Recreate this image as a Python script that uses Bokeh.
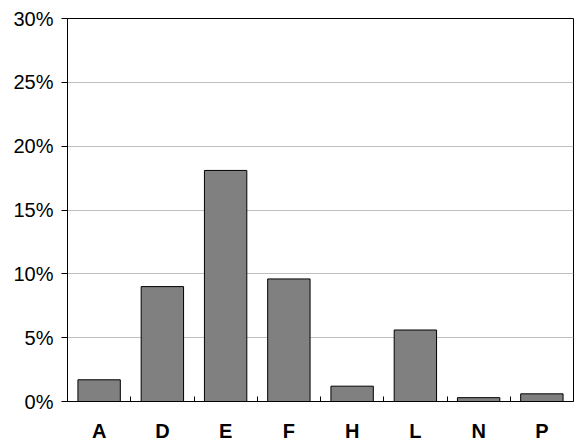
from bokeh.plotting import figure
from bokeh.models import Range1d, FixedTicker, NumeralTickFormatter, ColumnDataSource
from bokeh.embed import file_html
from bokeh.resources import INLINE

categories = ["A", "D", "E", "F", "H", "L", "N", "P"]
values = [0.017, 0.090, 0.181, 0.096, 0.012, 0.056, 0.003, 0.006]
y_ticks = [0.0, 0.05, 0.10, 0.15, 0.20, 0.25, 0.30]

xpos = list(range(1, len(categories) + 1))
src = ColumnDataSource(dict(x=xpos, top=values))

p = figure(width=577, height=444, output_backend="svg", toolbar_location=None,
           x_range=Range1d(0.5, len(categories) + 0.5), y_range=Range1d(0, 0.30),
           min_border_left=67, min_border_right=4, min_border_top=18, min_border_bottom=43)

p.vbar(x="x", top="top", bottom=0, width=0.67, source=src,
       fill_color="#808080", line_color="#000000", line_width=1)

p.outline_line_color = "#000000"
p.outline_line_width = 1
p.background_fill_color = "white"
p.border_fill_color = "white"

# y axis
p.yaxis.ticker = FixedTicker(ticks=y_ticks)
p.yaxis.formatter = NumeralTickFormatter(format="0%")
p.yaxis.major_tick_out = 6
p.yaxis.major_tick_in = 0
p.yaxis.minor_tick_line_color = None
p.yaxis.axis_line_color = "#000000"
p.yaxis.major_label_text_font = "Liberation Sans"
p.yaxis.major_label_text_font_size = "20px"
p.yaxis.major_label_text_color = "#000000"
p.yaxis.major_label_standoff = 8

# x axis: labels at centers, ticks between categories
bounds = [i + 0.5 for i in range(1, len(categories))]
p.xaxis.ticker = FixedTicker(ticks=xpos, minor_ticks=bounds)
p.xaxis.major_label_overrides = {i: c for i, c in zip(xpos, categories)}
p.xaxis.major_tick_line_color = None
p.xaxis.major_tick_in = 0
p.xaxis.major_tick_out = 0
p.xaxis.minor_tick_in = 5
p.xaxis.minor_tick_out = 0
p.xaxis.minor_tick_line_color = "#000000"
p.xaxis.axis_line_color = "#000000"
p.xaxis.major_label_text_font = "Liberation Sans"
p.xaxis.major_label_text_font_size = "20px"
p.xaxis.major_label_text_font_style = "bold"
p.xaxis.major_label_text_color = "#000000"
p.xaxis.major_label_standoff = 18

p.xgrid.grid_line_color = None
p.ygrid.ticker = FixedTicker(ticks=y_ticks)
p.ygrid.grid_line_color = "#c0c0c0"
p.ygrid.grid_line_width = 1

open("out.html", "w").write(file_html(p, INLINE))
